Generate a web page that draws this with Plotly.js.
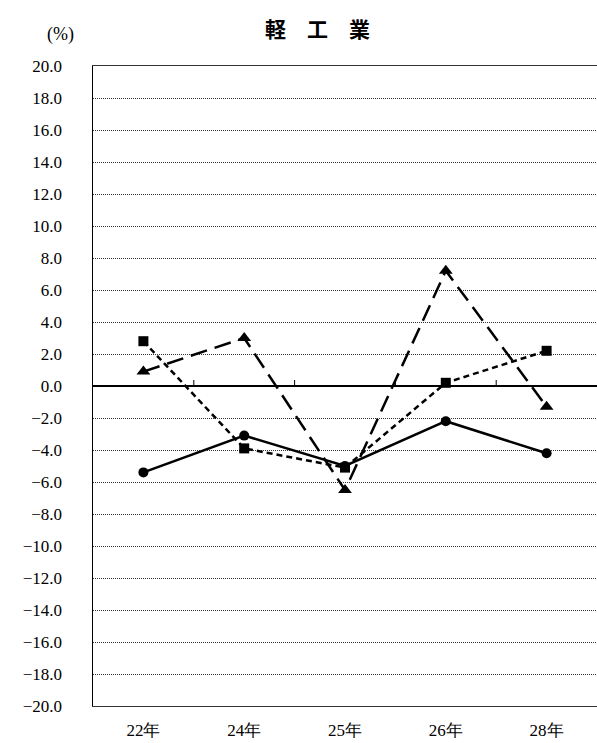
<!DOCTYPE html>
<html>
<head>
<meta charset="utf-8">
<script src="https://cdn.plot.ly/plotly-3.0.1.min.js"></script>
<style>html,body{margin:0;padding:0;background:#fff;}#chart{width:597px;height:743px;}</style>
</head>
<body>
<div id="chart"></div>
<script>
const categories = ['22年', '24年', '25年', '26年', '28年'];
const circleSeries = [-5.4, -3.1, -5.0, -2.2, -4.2];
const squareSeries = [2.8, -3.9, -5.1, 0.2, 2.2];
const triangleSeries = [0.9, 3.0, -6.5, 7.2, -1.3];
const yTickVals = [-20, -18, -16, -14, -12, -10, -8, -6, -4, -2, 0, 2, 4, 6, 8, 10, 12, 14, 16, 18, 20];
const yTickText = yTickVals.map(v => (v < 0 ? '−' + Math.abs(v).toFixed(1) : v.toFixed(1)));

const serif = 'Liberation Serif, DejaVu Serif, serif';
const traces = [
  {x: categories, y: circleSeries, type: 'scatter', mode: 'lines+markers',
   line: {color: '#000', width: 2.5}, marker: {symbol: 'circle', size: 10, color: '#000'}},
  {x: categories, y: squareSeries, type: 'scatter', mode: 'lines+markers',
   line: {color: '#000', width: 2.5, dash: '6px,4px'}, marker: {symbol: 'square', size: 10, color: '#000'}},
  {x: categories, y: triangleSeries, type: 'scatter', mode: 'lines+markers',
   line: {color: '#000', width: 2.5, dash: '17px,8px'}, marker: {symbol: 'triangle-up', size: 12, color: '#000'}}
];

// small category-boundary tick marks sitting on the zero line
const boundaryTicks = categories.slice(1).map((c, i) => ({
  type: 'line', xref: 'x', yref: 'y', ysizemode: 'pixel', yanchor: 0,
  x0: i + 0.5, x1: i + 0.5, y0: 0, y1: 6, layer: 'above',
  line: {color: '#000', width: 1}
}));

const layout = {
  width: 597, height: 743,
  margin: {l: 93, r: 0, t: 66, b: 37},
  paper_bgcolor: '#fff', plot_bgcolor: '#fff',
  showlegend: false,
  xaxis: {
    type: 'category', categoryarray: categories, range: [-0.5, 4.5],
    showgrid: false, zeroline: false,
    showline: true, mirror: true, linecolor: '#333', linewidth: 1, ticks: '',
    tickfont: {family: serif, size: 17, color: '#000'},
    ticklabelstandoff: 9
  },
  yaxis: {
    range: [-20, 20], tickvals: yTickVals, ticktext: yTickText,
    showgrid: true, gridcolor: '#333', griddash: '1px,1px', gridwidth: 1,
    zeroline: true, zerolinecolor: '#000', zerolinewidth: 1.5,
    showline: true, linecolor: '#000', linewidth: 1.5,
    ticks: '', ticklabelstandoff: 26,
    tickfont: {family: serif, size: 17, color: '#000'}
  },
  shapes: boundaryTicks,
  annotations: [
    {text: '<b>軽　工　業</b>', xref: 'paper', yref: 'paper', x: (317 - 93) / 504, y: 1, yshift: 38,
     xanchor: 'center', yanchor: 'middle', showarrow: false,
     font: {family: 'Noto Sans CJK JP', size: 21, color: '#000'}},
    {text: '(%)', xref: 'paper', yref: 'paper', x: (60 - 93) / 504, y: 1, yshift: 32,
     xanchor: 'center', yanchor: 'middle', showarrow: false,
     font: {family: serif, size: 18, color: '#000'}}
  ]
};

Plotly.newPlot('chart', traces, layout, {displayModeBar: false, staticPlot: true});
</script>
</body>
</html>
